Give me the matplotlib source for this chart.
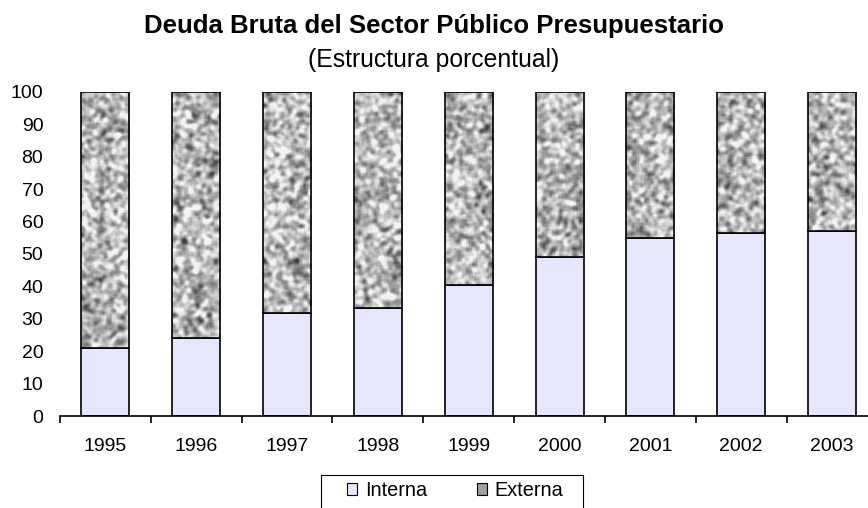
import matplotlib
matplotlib.use("Agg")
import matplotlib.pyplot as plt
from matplotlib.patches import Rectangle
import numpy as np

years = ["1995", "1996", "1997", "1998", "1999", "2000", "2001", "2002", "2003"]
interna = [21.0, 24.0, 31.9, 33.3, 40.3, 49.1, 54.8, 56.5, 57.0]
externa = [100 - v for v in interna]

plt.rcParams['font.family'] = ['Liberation Sans', 'DejaVu Sans']

fig = plt.figure(figsize=(8.68, 5.08), dpi=100)
ax = fig.add_axes([60 / 868, 0.181, 817.5 / 868, 0.6385])

x = np.arange(len(years))
w = 0.53
bars_in = ax.bar(x, interna, w, color='#e6e6fc', edgecolor='black', linewidth=1.2,
                 label='Interna', zorder=2)
bars_ex = ax.bar(x, externa, w, bottom=interna, color='#a9a9a9', edgecolor='black',
                 linewidth=1.2, label='Externa', zorder=2)

# granite-like texture for "Externa" (hash noise, smoothed; styling only)
yy, xx = np.mgrid[0:324, 0:818].astype(float)
noise = np.modf(np.abs(np.sin(xx * 12.9898 + yy * 78.233) * 43758.5453))[0]


def blur(a, r):
    out = np.zeros_like(a)
    for dy in range(-r, r + 1):
        for dx in range(-r, r + 1):
            out += np.roll(np.roll(a, dy, axis=0), dx, axis=1)
    return out / (2 * r + 1) ** 2


tex = blur(blur(noise, 2), 1)
tex = (tex - tex.mean()) / tex.std()
tex = np.clip(0.72 + 0.14 * tex, 0.25, 0.95)
for b in bars_ex:
    im = ax.imshow(tex, cmap='gray', vmin=0, vmax=1, aspect='auto',
                   extent=(-0.5, len(years) - 0.5, 0, 100), origin='lower',
                   interpolation='nearest', zorder=2.5)
    im.set_clip_path(b)
    b.set_zorder(3)
    b.set_facecolor('none')

ax.set_xlim(-0.5, len(years) - 0.5)
ax.set_ylim(0, 100)
ax.set_yticks(range(0, 101, 10))
ax.set_xticks(x)
ax.set_xticklabels(years)
ax.set_xticks(np.arange(-0.5, len(years), 1), minor=True)
ax.tick_params(axis='x', which='major', length=0, pad=16, labelsize=14)
ax.tick_params(axis='x', which='minor', length=5, width=1.2, direction='out')
ax.tick_params(axis='y', length=0, pad=12, labelsize=14)
for s in ['top', 'right', 'left']:
    ax.spines[s].set_visible(False)
ax.spines['bottom'].set_linewidth(1.2)

fig.text(0.5, 1 - 33 / 508, 'Deuda Bruta del Sector Público Presupuestario',
         ha='center', va='baseline', fontsize=18.5, fontweight='bold')
fig.text(0.5, 1 - 67 / 508, '(Estructura porcentual)',
         ha='center', va='baseline', fontsize=17.8)

leg = fig.legend(handles=[bars_in, bars_ex], labels=['Interna', 'Externa'],
                 loc='center left', bbox_to_anchor=(346.5 / 868, 1 - 491 / 508), ncol=2,
                 frameon=False, fontsize=14.3, borderpad=0, borderaxespad=0,
                 handlelength=0.55, handleheight=0.55, columnspacing=2.5, handletextpad=0.37)
leg.legend_handles[1].set_facecolor('#a0a0a0')
for h in leg.legend_handles:
    h.set_linewidth(0.8)
fig.add_artist(Rectangle((320.7 / 868, -0.02), (583 - 320.7) / 868, 0.02 + 1 - 475 / 508,
                         transform=fig.transFigure, fill=False, edgecolor='black',
                         linewidth=0.8))

fig.savefig('out.png', dpi=100)
